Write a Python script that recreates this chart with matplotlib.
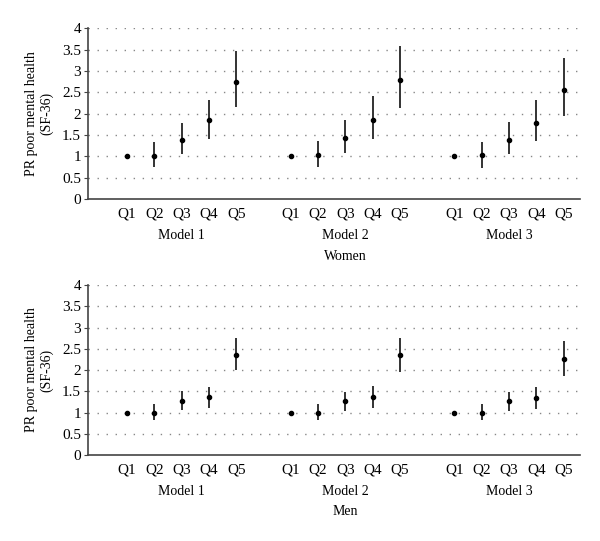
import matplotlib.pyplot as plt
import numpy as np

plt.rcParams['font.family'] = ['Liberation Serif', 'DejaVu Serif']

quintiles = ['Q1', 'Q2', 'Q3', 'Q4', 'Q5']
models = ['Model 1', 'Model 2', 'Model 3']

# Women: prevalence ratios with 95% CI, per model
women_pr = [[1.0, 1.0, 1.39, 1.84, 2.74],
            [1.0, 1.03, 1.43, 1.86, 2.78],
            [1.0, 1.03, 1.39, 1.79, 2.55]]
women_lo = [[1.0, 0.75, 1.05, 1.41, 2.15],
            [1.0, 0.76, 1.08, 1.41, 2.13],
            [1.0, 0.73, 1.05, 1.37, 1.95]]
women_hi = [[1.0, 1.33, 1.79, 2.32, 3.47],
            [1.0, 1.36, 1.84, 2.41, 3.58],
            [1.0, 1.34, 1.81, 2.32, 3.29]]

# Men
men_pr = [[1.0, 1.0, 1.27, 1.36, 2.35],
          [1.0, 1.0, 1.28, 1.36, 2.36],
          [1.0, 1.0, 1.27, 1.33, 2.27]]
men_lo = [[1.0, 0.82, 1.06, 1.11, 2.0],
          [1.0, 0.82, 1.04, 1.11, 1.96],
          [1.0, 0.82, 1.04, 1.08, 1.86]]
men_hi = [[1.0, 1.2, 1.5, 1.61, 2.75],
          [1.0, 1.2, 1.48, 1.62, 2.76],
          [1.0, 1.2, 1.48, 1.59, 2.69]]


def draw_panel(ax, pr, lo, hi, sex):
    xs_all = []
    for g in range(len(models)):
        xs = np.arange(5) + g * 6
        xs_all.extend(xs)
        p = np.array(pr[g])
        err = [p - np.array(lo[g]), np.array(hi[g]) - p]
        ax.errorbar(xs, p, yerr=err, fmt='o', color='black', ms=3,
                    ecolor='#333333', elinewidth=1.4, capsize=0, zorder=3)
        ax.annotate(models[g], xy=(xs[2], 0), xycoords=('data', 'axes fraction'),
                    xytext=(0, -26), textcoords='offset points',
                    ha='center', va='center', fontsize=10)
    ax.annotate(sex, xy=(8, 0), xycoords=('data', 'axes fraction'),
                xytext=(0, -41), textcoords='offset points',
                ha='center', va='center', fontsize=10)

    ax.set_xticks(xs_all)
    ax.set_xticklabels(quintiles * 3, fontsize=11)
    ax.tick_params(axis='x', length=0, pad=6)
    ax.set_xlim(-1.43, 16.6)

    ax.set_ylim(0, 4)
    ax.set_yticks(np.arange(0, 4.01, 0.5))
    ax.set_yticklabels(['0', '0.5', '1', '1.5', '2', '2.5', '3', '3.5', '4'], fontsize=11)
    ax.tick_params(axis='y', length=3, width=0.8, pad=2, color='#444444')
    for yv in np.arange(0.5, 4.01, 0.5):
        ax.axhline(yv, color='#888888', lw=1, ls=(0, (1, 5.5)), zorder=1)

    ax.spines['top'].set_visible(False)
    ax.spines['right'].set_visible(False)
    ax.spines['left'].set_color('#444444')
    ax.spines['bottom'].set_color('#444444')
    ax.spines['left'].set_linewidth(1.2)
    ax.spines['bottom'].set_linewidth(1.2)
    ax.set_ylabel('PR poor mental health\n(SF-36)', fontsize=10, labelpad=6)


fig = plt.figure(figsize=(6, 5.41), dpi=100)
ax1 = fig.add_axes([0.1467, 0.632, 0.82, 0.316])
ax2 = fig.add_axes([0.1467, 0.159, 0.82, 0.314])

draw_panel(ax1, women_pr, women_lo, women_hi, 'Women')
draw_panel(ax2, men_pr, men_lo, men_hi, 'Men')

fig.savefig('out.png', dpi=100)
